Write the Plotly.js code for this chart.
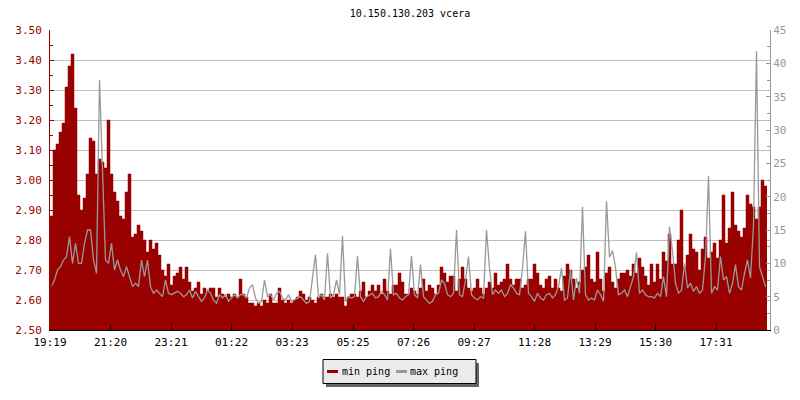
<!DOCTYPE html>
<html>
<head>
<meta charset="utf-8">
<script src="https://cdn.plot.ly/plotly-3.0.1.min.js"></script>
<style>html,body{margin:0;padding:0;background:#fff;}</style>
</head>
<body>
<div id="chart" style="width:800px;height:400px;"></div>
<script>
const chartTitle = '10.150.130.203 vcera';
const seriesNames = ['min ping', 'max ping'];
const startTime = '19:19';
const stepMinutes = 6;
const tickLabels = ['19:19','21:20','23:21','01:22','03:23','05:25','07:26','09:27','11:28','13:29','15:30','17:31'];

// min ping (ms), left axis
const minPing = [
2.88,3.10,3.12,3.16,3.19,3.31,3.38,3.42,3.24,2.95,
2.90,2.94,3.02,3.14,3.13,3.02,3.07,3.06,3.04,3.20,
3.02,2.96,2.93,2.88,2.87,2.96,3.02,2.81,2.82,2.85,
2.83,2.80,2.76,2.80,2.77,2.79,2.75,2.70,2.68,2.72,
2.65,2.68,2.69,2.71,2.67,2.71,2.66,2.63,2.64,2.66,
2.62,2.64,2.63,2.64,2.64,2.61,2.64,2.62,2.61,2.62,
2.61,2.62,2.61,2.67,2.62,2.61,2.59,2.59,2.58,2.59,
2.58,2.60,2.59,2.62,2.59,2.59,2.64,2.60,2.59,2.60,
2.59,2.60,2.61,2.63,2.62,2.60,2.61,2.60,2.59,2.61,
2.62,2.61,2.61,2.62,2.61,2.62,2.61,2.61,2.58,2.61,
2.62,2.62,2.61,2.63,2.66,2.61,2.63,2.65,2.63,2.65,
2.62,2.67,2.63,2.62,2.65,2.65,2.69,2.66,2.62,2.62,
2.64,2.63,2.62,2.64,2.67,2.63,2.65,2.64,2.62,2.65,
2.71,2.69,2.66,2.68,2.68,2.63,2.67,2.71,2.67,2.64,
2.63,2.64,2.67,2.64,2.62,2.64,2.66,2.64,2.69,2.65,
2.66,2.67,2.72,2.67,2.65,2.67,2.67,2.64,2.65,2.67,
2.67,2.72,2.69,2.65,2.64,2.67,2.68,2.64,2.67,2.64,
2.63,2.68,2.72,2.70,2.67,2.64,2.66,2.70,2.71,2.75,
2.67,2.66,2.76,2.67,2.63,2.69,2.71,2.66,2.64,2.67,
2.69,2.69,2.70,2.68,2.72,2.69,2.74,2.71,2.68,2.65,
2.72,2.66,2.72,2.67,2.76,2.73,2.82,2.72,2.72,2.80,
2.90,2.71,2.75,2.82,2.77,2.76,2.70,2.77,2.81,2.74,
2.76,2.79,2.74,2.80,2.95,2.79,2.84,2.96,2.85,2.83,
2.81,2.84,2.95,2.92,2.91,2.87,2.91,3.00,2.98
];

// max ping (ms), right axis
const maxPing = [
6.5,7.5,9,9.5,10.5,11,14,10,13,10,
10,13,15,15,10.5,8.5,37.5,23,10.5,10,
13,9,10.5,9,8,9.5,8,6.5,7,6.5,
10.5,8,10.5,6.5,5.5,6,5.5,5,7.5,5.5,
5.3,5.5,5.8,5.5,5,5.3,6,4.8,5.8,5,
4.3,4.8,6,5.5,4.5,4,5.3,4.8,5.3,4.3,
4.8,5.3,4.8,5.3,5.3,4.8,6.3,6.8,4.8,4,
4.3,7.5,5,5.3,4.5,5.5,5.8,4.8,4.5,5.3,
4.3,4.5,4.8,5,4.5,4,4.3,7.5,11.3,4.8,
5.3,4.5,11.5,4.8,5.3,7.5,5.3,14.1,4.3,5,
4.8,5,11.1,5,4.3,5,5.3,5.5,4.8,5,
5.8,5.3,4.5,12.2,5.3,5.5,4.8,4.5,5,5.3,
11.1,5.3,4.8,9.8,5,4.5,4,4.3,5.3,5.5,
7.5,7,5.3,5,5.5,15,5.3,5,7.5,11,
5.3,4.8,4.5,5,4.8,15,9.3,5.3,6,5.5,
6,5,5.5,6.8,6.3,5.5,5.3,9.3,14.8,5.5,
5,4.3,5.5,4.8,4.5,5.3,5.5,4.8,5.3,6.5,
9.3,4.5,4.8,9,4.5,7.8,5.5,18.5,5.3,4.5,
4.8,4.5,6,5.3,4.3,19.3,10.9,11.9,9.4,5.3,
5.5,6,5,6.5,8,11.6,5.5,6,5.3,5,
5,4.8,5.5,5,8,5,15.5,11.8,7,5.5,
6,10,6.3,7,5.8,6.5,5.5,6,11,23.1,
5.5,6.5,6,11,7.5,8,5.5,7,9.8,6.5,
6,8.5,10.5,7.8,15.8,41.8,9.5,8,6.5
];

const RED = '#990000';
const GRAY = '#999999';
const MONO = '"DejaVu Sans Mono", "Liberation Mono", monospace';

function toMin(s) { const p = s.split(':').map(Number); return p[0] * 60 + p[1]; }
const t0 = toMin(startTime);
const xs = minPing.map((_, i) => i * stepMinutes);
const xEnd = xs.concat([minPing.length * stepMinutes]);
const minExt = minPing.concat([minPing[minPing.length - 1]]);
const xMid = maxPing.map((_, i) => i * stepMinutes + stepMinutes / 2);
const tickVals = tickLabels.map(l => ((toMin(l) - t0) % 1440 + 1440) % 1440);

// plot-area geometry (px) for the hand-drawn legend
const PL = 50, PR = 770, PT = 30, PB = 330;
const px = v => (v - PL) / (PR - PL);
const py = v => (PB - v) / (PB - PT);

const traces = [
  {
    x: xEnd, y: minExt, name: seriesNames[0], type: 'scatter', mode: 'lines',
    line: {color: RED, width: 0.5, shape: 'hv'}, fill: 'tozeroy', fillcolor: RED,
    yaxis: 'y', hoverinfo: 'skip'
  },
  {
    x: xMid, y: maxPing, name: seriesNames[1], type: 'scatter', mode: 'lines',
    line: {color: GRAY, width: 1.3, shape: 'linear'},
    yaxis: 'y2', hoverinfo: 'skip'
  }
];

const shapes = [
  {type: 'rect', xref: 'paper', yref: 'paper', x0: px(326), x1: px(479), y0: py(363), y1: py(387),
   fillcolor: '#666666', line: {width: 0}},
  {type: 'rect', xref: 'paper', yref: 'paper', x0: px(323), x1: px(476), y0: py(359.5), y1: py(383.5),
   fillcolor: '#ebebeb', line: {color: '#000', width: 1}},
  {type: 'line', xref: 'paper', yref: 'paper', x0: px(327), x1: px(338), y0: py(371.5), y1: py(371.5),
   line: {color: RED, width: 3}},
  {type: 'line', xref: 'paper', yref: 'paper', x0: px(396), x1: px(407), y0: py(371.5), y1: py(371.5),
   line: {color: GRAY, width: 3}}
];

const annotations = [
  {xref: 'paper', yref: 'paper', x: px(340), y: py(371), xanchor: 'left', yanchor: 'middle',
   text: seriesNames[0], showarrow: false, font: {family: MONO, size: 10, color: '#000'}},
  {xref: 'paper', yref: 'paper', x: px(408), y: py(371), xanchor: 'left', yanchor: 'middle',
   text: seriesNames[1], showarrow: false, font: {family: MONO, size: 10, color: '#000'}}
];

const layout = {
  width: 800, height: 400,
  margin: {l: PL, r: 800 - PR, t: PT, b: 400 - PB, pad: 0},
  paper_bgcolor: '#ffffff', plot_bgcolor: '#ffffff',
  font: {family: MONO, size: 11, color: '#000'},
  showlegend: false,
  title: {text: chartTitle, font: {family: MONO, size: 10, color: '#000'},
          xref: 'paper', x: 0.5, xanchor: 'center', yref: 'container', y: 1 - 13 / 400, yanchor: 'middle'},
  xaxis: {
    range: [0, 1440], tickmode: 'array', tickvals: tickVals, ticktext: tickLabels,
    ticks: 'inside', ticklen: 5, tickcolor: '#000', tickwidth: 1, ticklabelstandoff: 2,
    showline: true, linecolor: '#000', linewidth: 1, showgrid: false, zeroline: false,
    tickfont: {family: MONO, size: 11, color: '#000'}, fixedrange: true
  },
  yaxis: {
    range: [2.5, 3.5], tick0: 2.5, dtick: 0.1, tickformat: '.2f',
    ticks: 'inside', ticklen: 4, tickcolor: RED, showline: true, linecolor: RED, linewidth: 1,
    ticklabelstandoff: 5,
    showgrid: true, gridcolor: '#c0c0c0', gridwidth: 1, zeroline: false,
    tickfont: {family: MONO, size: 11, color: RED},
    minor: {dtick: 0.05, tick0: 2.5, ticks: 'inside', ticklen: 3, tickcolor: RED, showgrid: false},
    fixedrange: true
  },
  yaxis2: {
    overlaying: 'y', side: 'right', range: [0, 45], tick0: 0, dtick: 5,
    ticks: 'inside', ticklen: 4, tickcolor: GRAY, showline: true, linecolor: GRAY, linewidth: 1,
    showgrid: false, zeroline: false,
    tickfont: {family: MONO, size: 11, color: GRAY},
    minor: {dtick: 2.5, tick0: 0, ticks: 'inside', ticklen: 3, tickcolor: GRAY, showgrid: false},
    fixedrange: true
  },
  shapes: shapes,
  annotations: annotations
};

Plotly.newPlot('chart', traces, layout, {staticPlot: true, displayModeBar: false});
</script>
</body>
</html>
